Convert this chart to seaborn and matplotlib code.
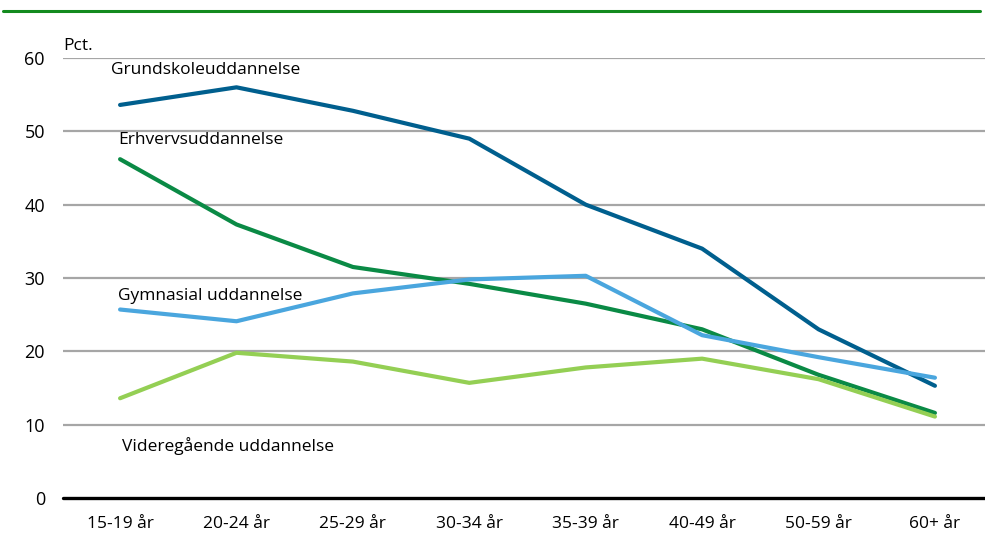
import matplotlib
matplotlib.use("Agg")
import matplotlib.pyplot as plt
import matplotlib.lines as mlines
import seaborn as sns
import pandas as pd

categories = ["15-19 år", "20-24 år", "25-29 år", "30-34 år", "35-39 år", "40-49 år", "50-59 år", "60+ år"]
grundskole = [53.6, 56.0, 52.8, 49.0, 40.0, 34.0, 23.0, 15.3]
erhverv = [46.2, 37.3, 31.5, 29.2, 26.5, 23.0, 16.8, 11.6]
gymnasial = [25.7, 24.1, 27.9, 29.8, 30.3, 22.2, 19.2, 16.4]
videregaaende = [13.6, 19.8, 18.6, 15.7, 17.8, 19.0, 16.2, 11.1]
series_names = ["Grundskoleuddannelse", "Erhvervsuddannelse", "Gymnasial uddannelse", "Videregående uddannelse"]
yticks = [0, 10, 20, 30, 40, 50, 60]

colors = {"Grundskoleuddannelse": "#005f8e",
          "Erhvervsuddannelse": "#0a8a45",
          "Gymnasial uddannelse": "#4aa6de",
          "Videregående uddannelse": "#94cf54"}

rows = []
for name, vals in zip(series_names, [grundskole, erhverv, gymnasial, videregaaende]):
    for i, (c, v) in enumerate(zip(categories, vals)):
        rows.append({"pos": i, "kategori": c, "serie": name, "værdi": v})
df = pd.DataFrame(rows)

sns.set_theme(style="white")
plt.rcParams["font.family"] = ["Open Sans", "DejaVu Sans"]

fig = plt.figure(figsize=(9.85, 5.39), dpi=100)
ax = fig.add_axes([0.064, 0.0761, 0.936, 0.8163])

for y in yticks[1:]:
    ax.axhline(y, color="#a6a6a6", lw=1.6, zorder=0)

sns.lineplot(data=df, x="pos", y="værdi", hue="serie", palette=colors,
             hue_order=series_names, linewidth=3.0, legend=False, ax=ax,
             sort=False)

ax.axhline(0, color="black", lw=2.4, zorder=3, clip_on=False)
ax.set_ylim(0, 60)
ax.set_xlim(-0.49, 7.43)
ax.set_xticks(range(len(categories)))
ax.set_xticklabels(categories, fontsize=12.5, color="black")
ax.set_yticks(yticks)
ax.set_yticklabels([str(t) for t in yticks], fontsize=13, color="black")
ax.tick_params(axis="both", length=0)
ax.tick_params(axis="x", pad=13)
ax.tick_params(axis="y", pad=13)
ax.set_xlabel("")
ax.set_ylabel("")
for s in ax.spines.values():
    s.set_visible(False)

lab_kw = dict(fontsize=12.5, color="black", va="center", ha="left", clip_on=False)
ax.text(-0.08, 58.3, "Grundskoleuddannelse", **lab_kw)
ax.text(-0.02, 48.8, "Erhvervsuddannelse", **lab_kw)
ax.text(-0.02, 27.6, "Gymnasial uddannelse", **lab_kw)
ax.text(0.02, 7.1, "Videregående uddannelse", **lab_kw)
ax.text(-0.49, 61.6, "Pct.", fontsize=12.5, color="black", va="center", ha="left", clip_on=False)

fig.add_artist(mlines.Line2D([0.003, 0.995], [1 - 11 / 539, 1 - 11 / 539],
                             color="#138a1e", lw=2.2, transform=fig.transFigure))

fig.savefig("out.png", dpi=100)
